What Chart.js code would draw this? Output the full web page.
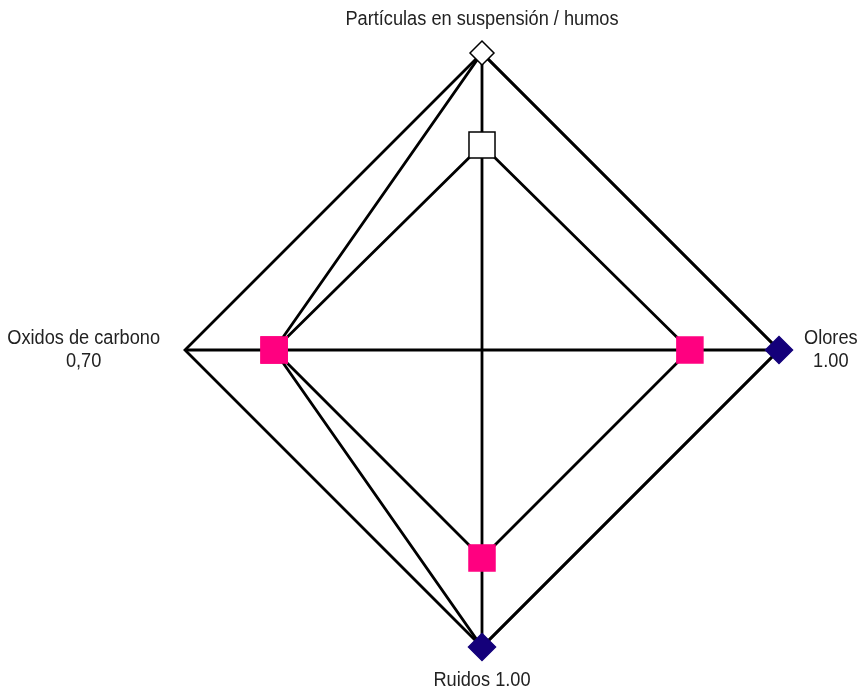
<!DOCTYPE html>
<html>
<head>
<meta charset="utf-8">
<script src="https://cdn.jsdelivr.net/npm/chart.js@4/dist/chart.umd.min.js"></script>
<style>
  html, body { margin: 0; padding: 0; background: #fff; }
  canvas { display: block; }
</style>
</head>
<body>
<canvas id="myChart" width="858" height="690"></canvas>
<script>
// axis labels, clockwise from the top
const categories = ['Partículas en suspensión / humos', 'Olores', 'Ruidos', 'Oxidos de carbono'];
const labelLines = [
  ['Partículas en suspensión / humos'],
  ['Olores', '1.00'],
  ['Ruidos 1.00'],
  ['Oxidos de carbono', '0,70']
];
const outerValues = [1.0, 1.0, 1.0, 0.7];
const innerValues = [0.69, 0.70, 0.70, 0.70];

const pink = '#ff0080';
const navy = '#14007a';
const labelFont = "20px 'Liberation Sans Narrow', 'Arial Narrow', 'Liberation Sans', sans-serif";
const squeeze = 0.91; // no narrow font installed, so squash the text a bit

// draws the category labels centred outside each corner of the scale
const outsideLabels = {
  id: 'outsideLabels',
  afterDraw(chart) {
    const scale = chart.scales.r;
    const ctx = chart.ctx;
    ctx.save();
    ctx.font = labelFont;
    ctx.fillStyle = '#222';
    ctx.textAlign = 'center';
    ctx.textBaseline = 'middle';
    const lineH = 23;
    labelLines.forEach((lines, i) => {
      const w = squeeze * Math.max(...lines.map(l => ctx.measureText(l).width));
      const h = lines.length * lineH;
      const horizontal = (i % 2 === 1);
      const gap = horizontal ? 25 + w / 2 : 22 + h / 2;
      const p = scale.getPointPosition(i, scale.drawingArea + gap);
      lines.forEach((l, j) => {
        ctx.save();
        ctx.translate(p.x, p.y - h / 2 + lineH / 2 + j * lineH);
        ctx.scale(squeeze, 1);
        ctx.fillText(l, 0, 0);
        ctx.restore();
      });
    });
    ctx.restore();
  }
};

new Chart(document.getElementById('myChart').getContext('2d'), {
  type: 'radar',
  data: {
    labels: categories,
    datasets: [
      {
        data: outerValues,
        borderColor: '#000',
        borderWidth: 2.8,
        fill: false,
        backgroundColor: 'transparent',
        pointStyle: ['rectRot', 'rectRot', 'rectRot', 'rect'],
        pointRadius: [12, 13.5, 13.5, 18.4],
        pointBackgroundColor: ['#fff', navy, navy, pink],
        pointBorderColor: ['#000', navy, navy, pink],
        pointBorderWidth: 1.5,
        clip: false
      },
      {
        data: innerValues,
        borderColor: '#000',
        borderWidth: 2.8,
        fill: false,
        backgroundColor: 'transparent',
        pointStyle: 'rect',
        pointRadius: 18.4,
        pointBackgroundColor: ['#fff', pink, pink, pink],
        pointBorderColor: ['#000', pink, pink, pink],
        pointBorderWidth: 1.5,
        clip: false
      }
    ]
  },
  options: {
    responsive: false,
    animation: false,
    layout: {
      padding: { left: 185, right: 79, top: 53, bottom: 43 }
    },
    plugins: {
      legend: { display: false },
      tooltip: { enabled: false }
    },
    elements: {
      line: { tension: 0 }
    },
    scales: {
      r: {
        min: 0,
        max: 1,
        ticks: { display: false, stepSize: 1 },
        grid: { color: '#000', lineWidth: 2.8 },
        angleLines: { color: '#000', lineWidth: 2.8 },
        pointLabels: { display: false }
      }
    }
  },
  plugins: [outsideLabels]
});
</script>
</body>
</html>
